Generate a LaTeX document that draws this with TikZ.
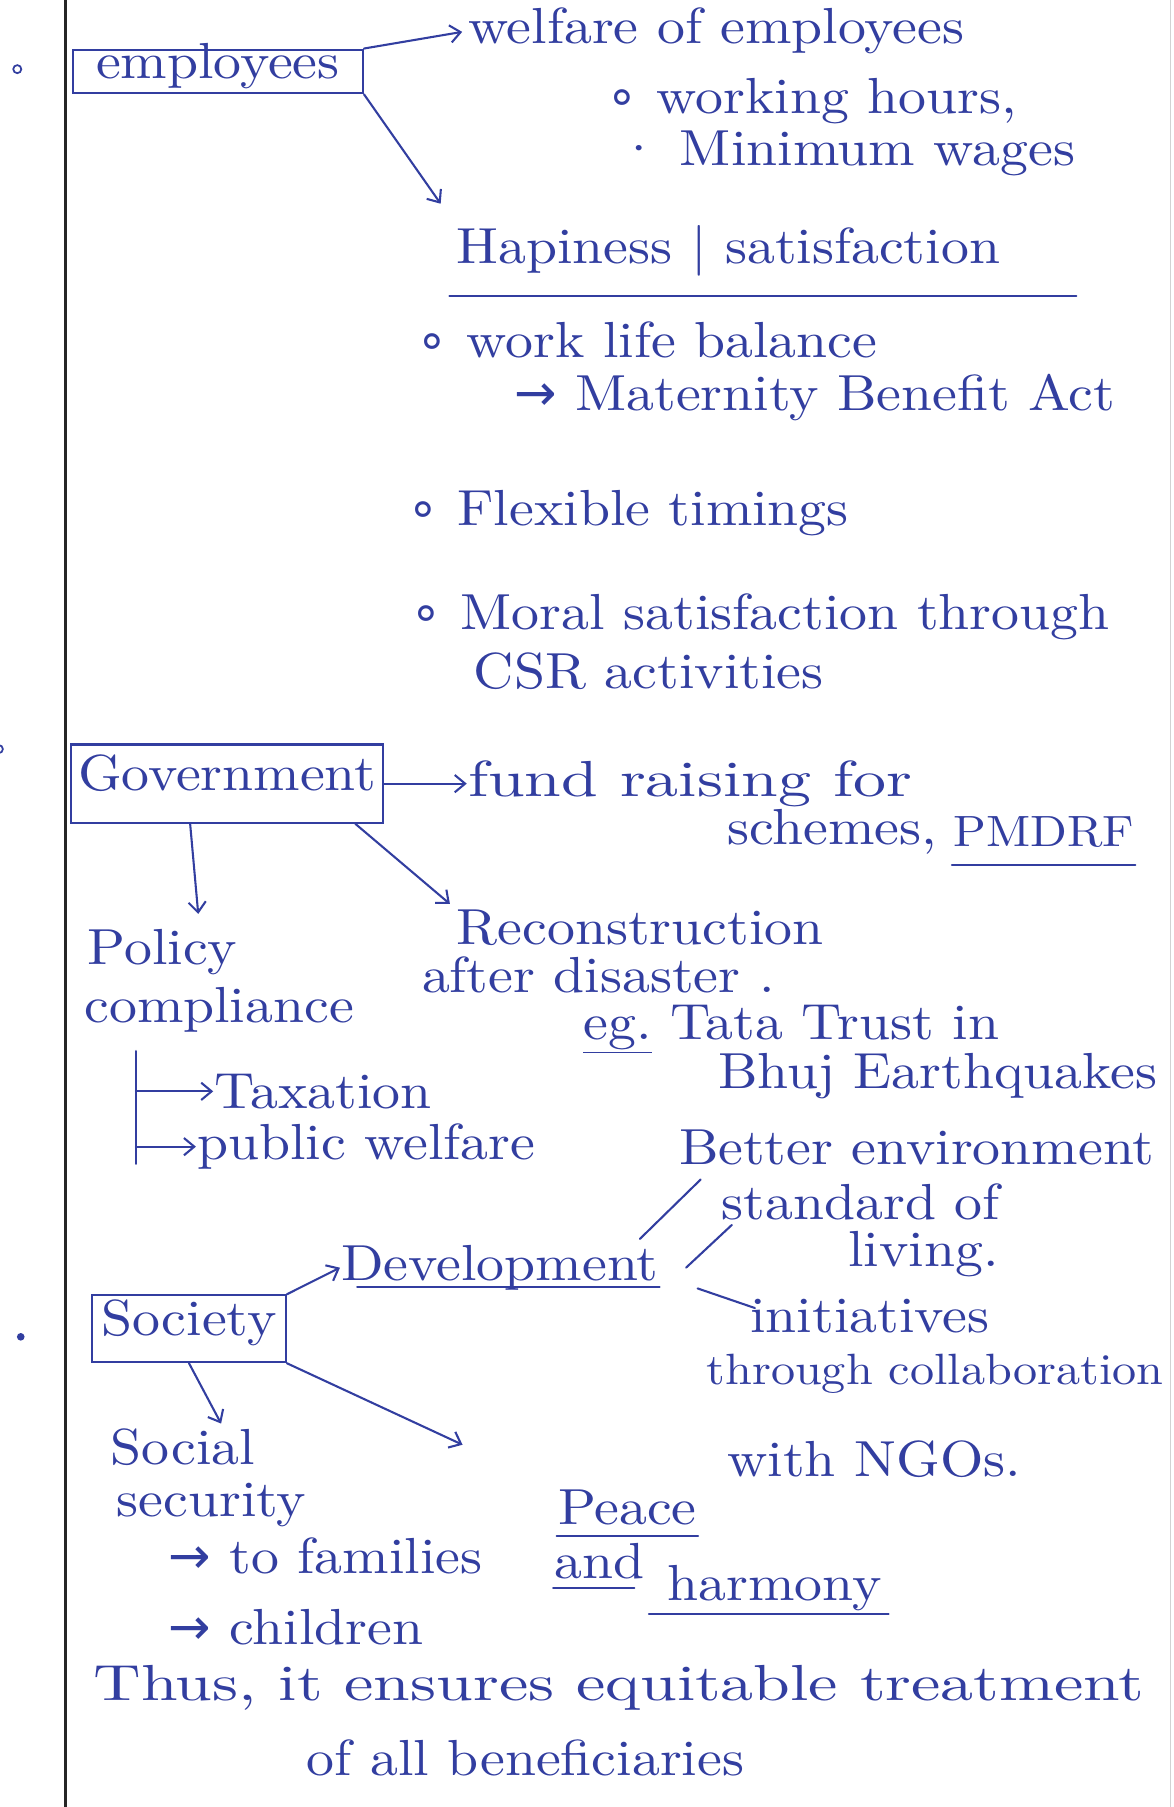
\documentclass[tikz,border=0pt]{standalone}
\usepackage{fontspec}
\newfontfamily\sym{DejaVu Sans}
\newfontfamily\handn[FakeStretch=1.1]{lmroman10-regular.otf}
\newfontfamily\handwide[FakeStretch=1.3]{lmroman10-regular.otf}
\usepackage{tikz}
\usetikzlibrary{positioning,arrows.meta}
\usepackage{xcolor}
\definecolor{ink}{RGB}{50,62,160}
\newcommand\hand{\handn\fontsize{44}{52}\selectfont}
\newcommand\handw{\handwide\fontsize{44}{52}\selectfont}

\begin{document}
\begin{tikzpicture}[
        x=1pt, y=-1pt,
        every node/.style={font=\hand, text=ink},
        txt/.style={anchor=west, inner sep=1pt},
        wide/.style={txt, font=\handw},
        box/.style={draw=ink, line width=1.8pt, inner sep=0pt, text height=12pt, text depth=0pt},
        pen/.style={ink, line width=1.8pt, line cap=round},
        arr/.style={pen, -{Straight Barb[length=9pt,width=15pt]}},
        dotc/.style={circle, draw=ink, line width=1.5pt, inner sep=0pt, minimum size=7pt},
      ]
      \fill[white] (0,0) rectangle (1018,1568);
      \useasboundingbox (0,0) rectangle (1018,1568);
      \draw[black!85, line width=3pt] (57,0) -- (57,1568);
      \draw[gray!35, line width=1pt] (1016,0) -- (1016,1568);

      % employees
      \node[dotc] (b1) at (15,60) {};
      \node[box, minimum width=252pt, minimum height=38pt] (emp) at (189,62) {employees};
      \node[txt] (wel) at (405,27) {welfare of employees};
      \node[txt] (hrs) at (525,88) {{\sym∘} working hours,};
      \node[txt] (wag) at (535,133) {· Minimum wages};
      \node[txt] (hap) at (395,218) {Hapiness | satisfaction};
      \node[txt] (wlb) at (360,295) {{\sym∘} work life balance};
      \node[txt] (mat) at (445,345) {{\sym→} Maternity Benefit Act};
      \node[txt] (flx) at (352,445) {{\sym∘} Flexible timings};
      \node[txt] (mor) at (355,535) {{\sym∘} Moral satisfaction through};
      \node[txt] (csr) at (410,582) {CSR activities};
      \draw[arr, shorten >=4pt] (emp.north east) -- (wel.west);
      \draw[arr, shorten >=22pt] (emp.south east) -- (hap.north west);
      \draw[pen] ([shift={(-5,28)}]hap.base west) -- ([shift={(65,28)}]hap.base east);

      % government
      \node[dotc] (b2) at (-1,650) {};
      \node[box, minimum width=271pt, minimum height=68pt] (gov) at (197,680) {Government};
      \node[wide] (fund) at (405,680) {fund raising for};
      \node[txt] (sch) at (630,722) {schemes,};
      \node[txt, font=\handn\fontsize{38}{46}\selectfont] (pmd) at (826,722) {PMDRF};
      \draw[arr] (gov.east) -- (fund.west);
      \draw[pen] ([shift={(0,16)}]pmd.base west) -- ([shift={(0,16)}]pmd.base east);
      \node[txt] (pol) at (75,826) {Policy};
      \node[txt] (comp) at (72,876) {compliance};
      \node[txt] (rec) at (395,805) {Reconstruction};
      \node[txt] (aft) at (365,846) {after disaster .};
      \node[txt] (tata) at (505,893) {\underline{eg.} Tata Trust in};
      \node[txt] (bhuj) at (622,934) {Bhuj Earthquakes};
      \draw[arr, shorten >=12pt] ([xshift=-32pt]gov.south) -- ([xshift=32pt]pol.north);
      \draw[arr, shorten >=6pt] ([xshift=-25pt]gov.south east) -- (rec.north west);
      \coordinate (trunk) at (118,912);
      \coordinate (trunkend) at (118,1010);
      \node[txt] (tax) at (185,947) {Taxation};
      \node[txt] (pw) at (170,995) {public welfare};
      \draw[pen] (trunk) -- (trunkend);
      \draw[arr] (trunk |- tax.west) -- (tax.west);
      \draw[arr] (trunk |- pw.west) -- (pw.west);

      % society
      \node[dotc, fill=ink, minimum size=5pt] (b3) at (18,1160) {};
      \node[box, minimum width=168pt, minimum height=58pt] (soc) at (164,1153) {Society};
      \node[txt] (dev) at (295,1100) {Development};
      \node[txt] (bet) at (588,996) {Better environment};
      \node[txt] (std) at (625,1043) {standard of};
      \node[txt] (liv) at (735,1088) {living.};
      \node[txt] (ini) at (650,1142) {initiatives};
      \node[txt, font=\handn\fontsize{38}{46}\selectfont] (thr) at (612,1192) {through collaboration};
      \node[txt] (ngo) at (630,1266) {with NGOs.};
      \draw[arr] (soc.north east) -- (dev.west);
      \draw[pen] ([shift={(15,6)}]dev.base west) -- ([shift={(0,6)}]dev.base east);
      \draw[pen] ([shift={(-17,-25)}]dev.east) -- ([shift={(20,11)}]bet.south west);
      \draw[pen] ([shift={(23,0)}]dev.east) -- ([shift={(10,3)}]std.south west);
      \draw[pen] ([shift={(33,18)}]dev.east) -- ([shift={(5,-7)}]ini.west);
      \node[txt] (soc1) at (95,1256) {Social};
      \node[txt] (sec) at (100,1306) {security};
      \node[txt] (fam) at (145,1350) {{\sym→} to families};
      \node[txt] (chi) at (145,1412) {{\sym→} children};
      \node[txt] (pea) at (483,1308) {Peace};
      \node[txt] (and) at (480,1355) {and};
      \node[txt] (har) at (578,1378) {harmony};
      \draw[arr, shorten >=4pt] (soc.south) -- ([xshift=35pt]soc1.north);
      \draw[arr, shorten >=90pt] (soc.south east) -- (pea.north west);
      \draw[pen] ([shift={(0,10)}]pea.base west) -- ([shift={(0,10)}]pea.base east);
      \draw[pen] ([shift={(0,8)}]and.base west) -- ([shift={(-10,8)}]and.base east);
      \draw[pen] ([shift={(-15,12)}]har.base west) -- ([shift={(5,12)}]har.base east);

      % conclusion
      \node[wide] (thus) at (80,1465) {Thus, it ensures equitable treatment};
      \node[txt] (ben) at (265,1525) {of all beneficiaries};
    \end{tikzpicture}
\end{document}
